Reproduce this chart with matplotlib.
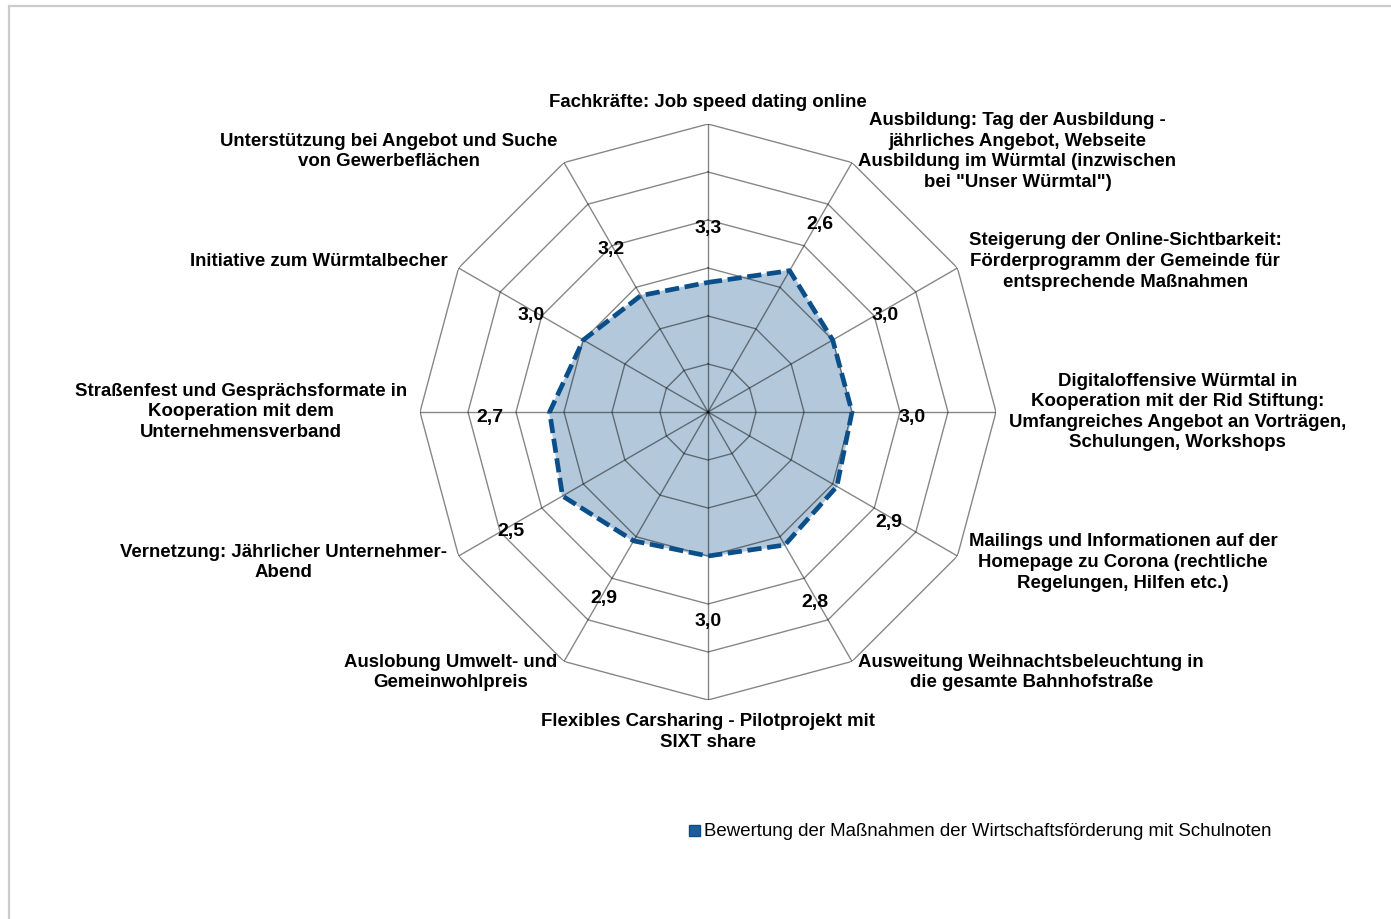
import numpy as np
import matplotlib
matplotlib.use("Agg")
import matplotlib.pyplot as plt
from matplotlib.patches import Rectangle
from matplotlib.transforms import offset_copy

plt.rcParams['font.family'] = ['Liberation Sans', 'DejaVu Sans']

categories = [
    "Fachkräfte: Job speed dating online",
    "Ausbildung: Tag der Ausbildung -\njährliches Angebot, Webseite\nAusbildung im Würmtal (inzwischen\nbei \"Unser Würmtal\")",
    "Steigerung der Online-Sichtbarkeit:\nFörderprogramm der Gemeinde für\nentsprechende Maßnahmen",
    "Digitaloffensive Würmtal in\nKooperation mit der Rid Stiftung:\nUmfangreiches Angebot an Vorträgen,\nSchulungen, Workshops",
    "Mailings und Informationen auf der\nHomepage zu Corona (rechtliche\nRegelungen, Hilfen etc.)",
    "Ausweitung Weihnachtsbeleuchtung in\ndie gesamte Bahnhofstraße",
    "Flexibles Carsharing - Pilotprojekt mit\nSIXT share",
    "Auslobung Umwelt- und\nGemeinwohlpreis",
    "Vernetzung: Jährlicher Unternehmer-\nAbend",
    "Straßenfest und Gesprächsformate in\nKooperation mit dem\nUnternehmensverband",
    "Initiative zum Würmtalbecher",
    "Unterstützung bei Angebot und Suche\nvon Gewerbeflächen",
]
values = [3.3, 2.6, 3.0, 3.0, 2.9, 2.8, 3.0, 2.9, 2.5, 2.7, 3.0, 3.2]
series_name = "Bewertung der Maßnahmen der Wirtschaftsförderung mit Schulnoten"
ring_levels = [0, 1, 2, 3, 4, 5]

n = len(categories)
theta = np.arange(n) * 2 * np.pi / n
theta_c = np.append(theta, theta[0])
vals_c = np.append(values, values[0])

fig = plt.figure(figsize=(13.91, 9.19), dpi=100)
# light frame around the chart area
fig.patches.append(Rectangle((9 / 1391, -0.05), 1.2, 1 - 6 / 919 + 0.05,
                             transform=fig.transFigure, fill=False,
                             edgecolor='#cccccc', linewidth=1.6))

cx, cy, R = 708 / 1391, 1 - 412 / 919, 288
ax = fig.add_axes([cx - R / 1391, cy - R / 919, 2 * R / 1391, 2 * R / 919],
                  projection='polar')
ax.set_theta_zero_location('N')
ax.set_theta_direction(-1)
ax.set_ylim(6, 0)
ax.grid(False)
ax.spines['polar'].set_visible(False)
ax.set_xticks([])
ax.set_yticks([])
ax.patch.set_alpha(0)

# data area
ax.fill(theta_c, vals_c, color='#b3c9db', zorder=1)

# polygon grid and spokes (semi-transparent so they look darker on the fill)
for lv in ring_levels:
    ax.plot(theta_c, [lv] * (n + 1), color='black', alpha=0.47, lw=1.0, zorder=2)
for t in theta:
    ax.plot([t, t], [6, 0], color='black', alpha=0.47, lw=1.0, zorder=2)

ax.plot(theta_c, vals_c, color='#0b4f8a', lw=3.4, linestyle=(0, (3.0, 1.2)),
        zorder=3, dash_capstyle='butt')

# value labels (shifted a little downwards like in Excel)
lab_trans = offset_copy(ax.transData, fig=fig, y=-4.3, units='points')
for t, v in zip(theta, values):
    ax.text(t, v - 1.25, f"{v:.1f}".replace('.', ','), ha='center', va='center',
            fontsize=14, fontweight='bold', zorder=4, transform=lab_trans)

# category labels
for i, (t, lab) in enumerate(zip(theta, categories)):
    deg = np.degrees(t)
    if i == 0:
        ha, va = 'center', 'bottom'
    elif i == n // 2:
        ha, va = 'center', 'top'
    elif deg < 180:
        ha, va = 'left', 'center'
    else:
        ha, va = 'right', 'center'
    ax.text(t, -0.27, lab, ha=ha, va=va, multialignment='center',
            fontsize=13.4, fontweight='bold', linespacing=1.28)

# legend
fig.text(704 / 1391, 1 - 831 / 919, series_name, ha='left', va='center',
         fontsize=13.4)
fig.patches.append(Rectangle((689 / 1391, 1 - 836 / 919), 11 / 1391, 11 / 919,
                             transform=fig.transFigure, facecolor='#1f5c99',
                             edgecolor='#0b4f8a', linewidth=1))

fig.savefig("out.png", dpi=100)
